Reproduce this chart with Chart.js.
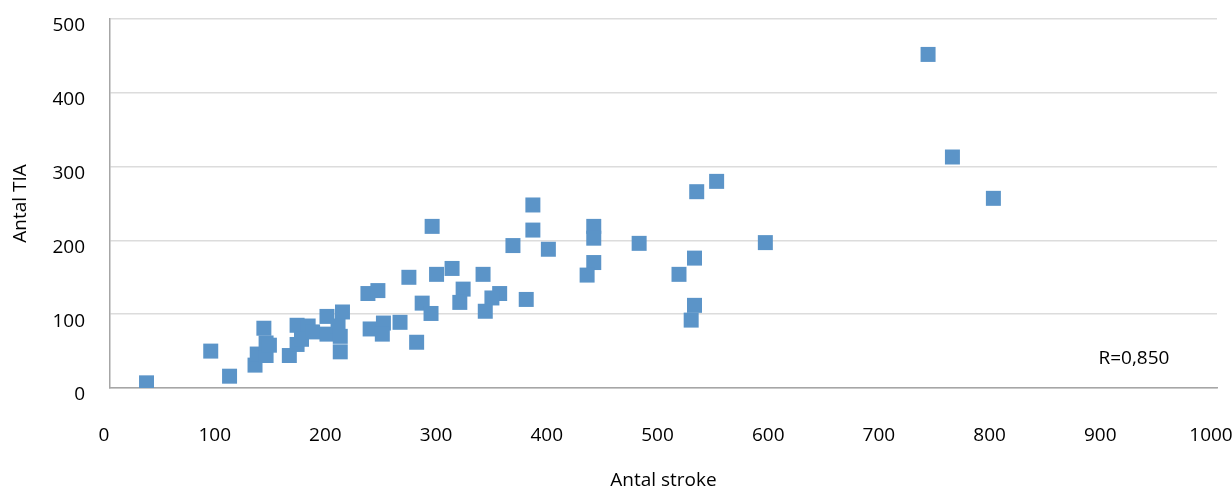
<!DOCTYPE html>
<html>
<head>
<meta charset="utf-8">
<script src="https://cdn.jsdelivr.net/npm/chart.js@4/dist/chart.umd.min.js"></script>
<style>
  html, body { margin: 0; padding: 0; background: #ffffff; }
  #wrap { width: 1232px; height: 492px; }
</style>
</head>
<body>
<div id="wrap"><canvas id="c" width="1232" height="492"></canvas></div>
<script>
// ---- data ----
const strokes = [33, 91, 108, 131, 139, 133, 141, 141, 144, 162, 169, 169, 179, 173, 183, 196, 196, 210, 206, 208,
                 208, 233, 242, 235, 247, 246, 262, 277, 270, 291, 282, 290, 295, 309, 319, 316, 337, 352, 345, 339,
                 364, 382, 382, 396, 376, 437, 437, 437, 431, 478, 514, 528, 530, 548, 528, 525, 592, 739, 761, 798];
const tia     = [7, 50, 16, 31, 81, 46, 44, 61, 58, 44, 85, 59, 84, 66, 76, 97, 73, 103, 84, 70,
                 49, 128, 132, 80, 88, 73, 89, 62, 150, 219, 115, 101, 154, 162, 134, 116, 154, 128, 122, 104,
                 193, 248, 214, 188, 120, 219, 203, 170, 153, 196, 154, 176, 266, 280, 112, 92, 197, 452, 313, 257];
const xTitle = 'Antal stroke';
const yTitle = 'Antal TIA';
const xTicks = { min: 0, max: 1000, step: 100 };
const yTicks = { min: 0, max: 500, step: 100 };
const rLabel = 'R=0,850';
const rLabelAt = { x: 925, y: 40 };

const points = strokes.map((s, i) => ({ x: s, y: tia[i] }));
const FONT = { family: '"Open Sans", sans-serif', size: 19 };
const TXT = '#000000';

const rPlugin = {
  id: 'rLabel',
  afterDatasetsDraw(chart) {
    const { ctx, scales } = chart;
    ctx.save();
    ctx.font = FONT.size + 'px ' + FONT.family;
    ctx.fillStyle = TXT;
    ctx.textAlign = 'center';
    ctx.textBaseline = 'middle';
    ctx.fillText(rLabel, scales.x.getPixelForValue(rLabelAt.x), scales.y.getPixelForValue(rLabelAt.y));
    ctx.restore();
  }
};

new Chart(document.getElementById('c'), {
  type: 'scatter',
  data: {
    datasets: [{
      data: points,
      pointStyle: 'rect',
      pointRadius: 10.6,
      pointHoverRadius: 10.6,
      pointBorderWidth: 0,
      backgroundColor: '#5B94C8',
      borderColor: '#5B94C8'
    }]
  },
  options: {
    responsive: false,
    animation: false,
    events: [],
    layout: { padding: { top: 19, right: 15, left: 0, bottom: 0 } },
    plugins: { legend: { display: false }, tooltip: { enabled: false } },
    scales: {
      x: {
        type: 'linear',
        min: xTicks.min, max: xTicks.max,
        ticks: { stepSize: xTicks.step, padding: 36, labelOffset: -6, font: FONT, color: TXT, maxRotation: 0,
                 callback: v => String(v) },
        grid: { display: false, drawTicks: false },
        border: { display: true, color: '#a6a6a6', width: 1.5 },
        title: { display: true, text: xTitle, font: FONT, color: TXT, padding: { top: -2, bottom: 0 } },
        afterFit(s) { s.height = 104; s.paddingLeft = 0; s.paddingRight = 0; }
      },
      y: {
        type: 'linear',
        min: yTicks.min, max: yTicks.max,
        ticks: { stepSize: yTicks.step, padding: 25, labelOffset: 7, font: FONT, color: TXT,
                 callback: v => String(v) },
        grid: { color: '#dcdcdc', lineWidth: 1.5, drawTicks: false },
        border: { display: true, color: '#a6a6a6', width: 1.5 },
        title: { display: true, text: yTitle, font: FONT, color: TXT, padding: { top: 9, bottom: 0 } },
        afterFit(s) { s.width = 110; s.paddingTop = 0; s.paddingBottom = 0; }
      }
    }
  },
  plugins: [rPlugin]
});
</script>
</body>
</html>
